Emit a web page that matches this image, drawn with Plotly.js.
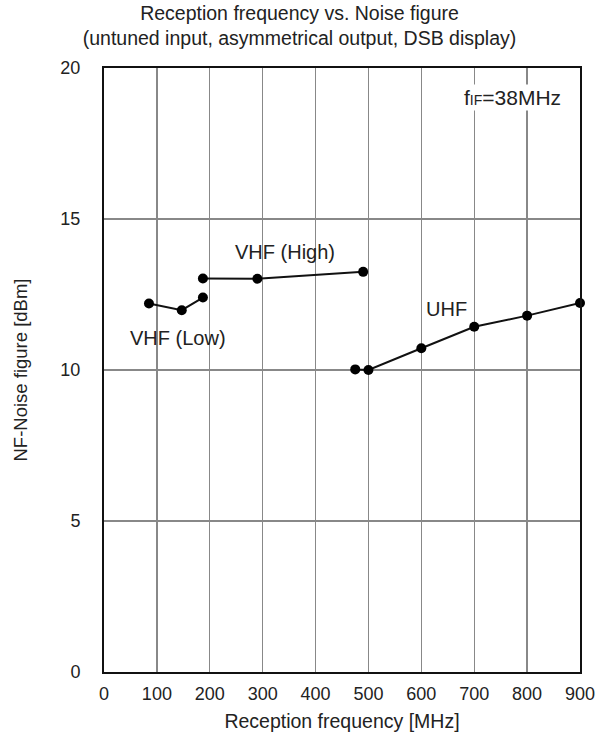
<!DOCTYPE html>
<html>
<head>
<meta charset="utf-8">
<script src="https://cdn.plot.ly/plotly-3.0.1.min.js"></script>
<style>html,body{margin:0;padding:0;background:#fff;}#chart{width:599px;height:743px;}</style>
</head>
<body>
<div id="chart"></div>
<script>
const vhfLowFreq = [85, 147, 187];
const vhfLowNF = [12.2, 11.98, 12.4];
const vhfHighFreq = [187, 290, 490];
const vhfHighNF = [13.03, 13.02, 13.25];
const uhfFreq = [475, 500, 600, 700, 800, 900];
const uhfNF = [10.02, 10.0, 10.72, 11.43, 11.8, 12.22];
const xTicks = [0, 100, 200, 300, 400, 500, 600, 700, 800, 900];
const yTicks = [0, 5, 10, 15, 20];

const lineStyle = {color: '#111', width: 2};
const markerStyle = {color: '#000', size: 10};
function tr(x, y) {
  return {x: x, y: y, mode: 'lines+markers', line: lineStyle, marker: markerStyle, showlegend: false, hoverinfo: 'none', cliponaxis: false};
}
const data = [tr(vhfLowFreq, vhfLowNF), tr(vhfHighFreq, vhfHighNF), tr(uhfFreq, uhfNF)];
const fnt = {family: 'Liberation Sans, Arial, sans-serif', color: '#222'};
const f = s => Object.assign({size: s}, fnt);
const layout = {
  width: 599, height: 743,
  margin: {l: 104, r: 19, t: 68, b: 71},
  paper_bgcolor: '#fff', plot_bgcolor: '#fff',
  font: f(18),
  title: {text: 'Reception frequency vs. Noise figure<br>(untuned input, asymmetrical output, DSB display)',
          font: f(19.5), x: 0.5, xref: 'container', xanchor: 'center', yref: 'container', y: 0.973, yanchor: 'middle'},
  xaxis: {range: [0, 900], tickvals: xTicks, ticktext: xTicks.map(String), showgrid: true, gridcolor: '#888', gridwidth: 1.3,
          zeroline: false, showline: true, linecolor: '#111', linewidth: 2, mirror: true,
          ticks: 'outside', ticklen: 4, tickcolor: 'rgba(0,0,0,0)',
          tickfont: f(18),
          title: {text: 'Reception frequency [MHz]', font: f(19.5), standoff: 12}},
  yaxis: {range: [0, 20], tickvals: yTicks, ticktext: yTicks.map(String), showgrid: true, gridcolor: '#888', gridwidth: 1.3,
          zeroline: false, showline: true, linecolor: '#111', linewidth: 2, mirror: true,
          ticks: 'outside', ticklen: 18, tickcolor: 'rgba(0,0,0,0)',
          tickfont: f(18),
          title: {text: 'NF-Noise figure [dBm]', font: f(18.5), standoff: 28}},
  annotations: [
    {x: 342, y: 13.9, xref: 'x', yref: 'y', text: 'VHF (High)', showarrow: false, font: f(20)},
    {x: 139, y: 11.06, xref: 'x', yref: 'y', text: 'VHF (Low)', showarrow: false, font: f(20)},
    {x: 648, y: 12.02, xref: 'x', yref: 'y', text: 'UHF', showarrow: false, font: f(20)},
    {x: 868, y: 19.03, xref: 'x', yref: 'y', xanchor: 'right', text: 'f<span style="font-size:14px">IF</span>=38MHz', showarrow: false, font: f(21), bgcolor: '#fff'}
  ]
};
Plotly.newPlot('chart', data, layout, {displayModeBar: false, staticPlot: true});
</script>
</body>
</html>
